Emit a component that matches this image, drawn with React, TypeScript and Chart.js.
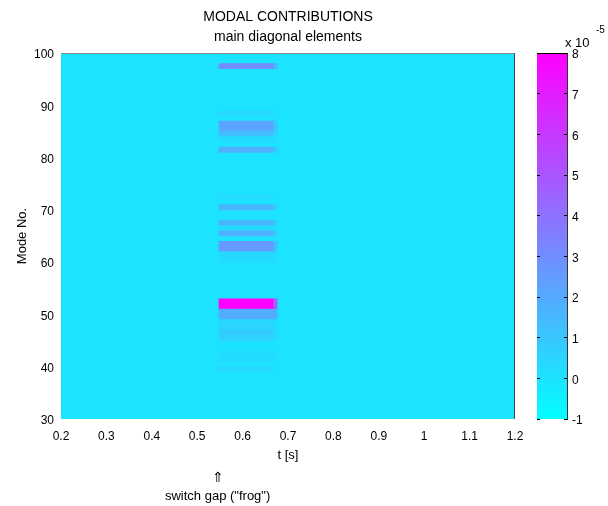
import React, { useEffect, useRef } from 'react';
import { Chart, registerables } from 'chart.js';

Chart.register(...registerables);

const FONT = '"Liberation Sans", Arial, Helvetica, sans-serif';

// axis ticks
const xTicks = [0.2, 0.3, 0.4, 0.5, 0.6, 0.7, 0.8, 0.9, 1, 1.1, 1.2];
const yTicks = [30, 40, 50, 60, 70, 80, 90, 100];
const cbTicks = [-1, 0, 1, 2, 3, 4, 5, 6, 7, 8];

// colour range (x 10^-5)
const cMin = -1;
const cMax = 8;
const baseValue = 0;

// time columns of the switching interval
const columnStart = [0.548, 0.667];
const columnEnd = [0.667, 0.676];

// modes with non-zero contribution and their values (x 10^-5)
const modes = [97, 88, 86, 85, 84, 83, 81, 72, 70, 67, 66, 65, 63, 62, 61, 60, 52, 51, 50, 49, 48, 47, 46, 45, 42, 41, 39];
const mainValues = [3.0, 0.3, 2.2, 2.2, 1.3, 0.3, 1.8, 0.2, 1.6, 1.6, 0.3, 1.8, 2.6, 2.6, 0.4, 0.3, 8, 8, 1.9, 1.9, 0.4, 0.5, 0.8, 0.6, 0.2, 0.3, 0.3];
const edgeValues = [1.6, 0.2, 1.0, 1.0, 0.6, 0.1, 0.8, 0.1, 0.7, 0.8, 0.1, 0.9, 1.3, 1.3, 0.2, 0.1, 4.5, 4.5, 1.9, 1.9, 0.2, 0.3, 0.4, 0.3, 0.1, 0.1, 0.1];

const annotationT = 0.545;

function cool(v: number): string {
  let f = (v - cMin) / (cMax - cMin);
  f = Math.max(0, Math.min(1, f));
  const r = Math.round(255 * f);
  const g = Math.round(255 * (1 - f));
  return `rgb(${r},${g},255)`;
}

function cells(col: number) {
  return modes.map((m) => ({ x: [columnStart[col], columnEnd[col]], y: m + 0.5 }));
}

const heatPlugin = {
  id: 'heatBg',
  beforeDatasetsDraw(chart: any) {
    const { ctx, chartArea: a } = chart;
    ctx.save();
    ctx.fillStyle = cool(baseValue);
    ctx.fillRect(a.left, a.top, a.right - a.left, a.bottom - a.top);
    ctx.restore();
  },
  afterDraw(chart: any) {
    const { ctx, chartArea: a } = chart;
    ctx.save();
    ctx.lineWidth = 1;
    ctx.strokeStyle = '#8a8a8a';
    ctx.beginPath();
    ctx.moveTo(a.left, Math.floor(a.top) + 0.5);
    ctx.lineTo(a.right, Math.floor(a.top) + 0.5);
    ctx.stroke();
    ctx.strokeStyle = '#444';
    ctx.beginPath();
    ctx.moveTo(Math.round(a.right) - 0.5, a.top);
    ctx.lineTo(Math.round(a.right) - 0.5, a.bottom);
    ctx.stroke();
    const x = chart.scales.x.getPixelForValue(annotationT);
    ctx.fillStyle = '#000';
    ctx.textAlign = 'center';
    ctx.textBaseline = 'middle';
    ctx.font = `14px ${FONT}`;
    ctx.fillText('\u21D1', x, 478);
    ctx.font = `13px ${FONT}`;
    ctx.fillText('switch gap ("frog")', x, 496);
    ctx.restore();
  },
};

const cbPlugin = {
  id: 'cbDeco',
  afterDraw(chart: any) {
    const { ctx, chartArea: a } = chart;
    ctx.save();
    ctx.strokeStyle = '#000';
    ctx.lineWidth = 1;
    ctx.beginPath();
    ctx.moveTo(a.left, Math.floor(a.top) + 0.5);
    ctx.lineTo(a.right, Math.floor(a.top) + 0.5);
    ctx.stroke();
    ctx.fillStyle = '#000';
    ctx.textAlign = 'left';
    ctx.textBaseline = 'middle';
    ctx.font = `13px ${FONT}`;
    ctx.fillText('x 10', 45, 43);
    ctx.font = `10px ${FONT}`;
    ctx.fillText('-5', 76, 30);
    ctx.restore();
  },
};

export default function App() {
  const mainRef = useRef<HTMLCanvasElement>(null);
  const cbRef = useRef<HTMLCanvasElement>(null);

  useEffect(() => {
    const tickFont = { family: FONT, size: 12 };
    const main = new Chart(mainRef.current as HTMLCanvasElement, {
      type: 'bar',
      data: {
        datasets: [
          {
            data: cells(0) as any,
            backgroundColor: mainValues.map(cool),
            borderWidth: 0,
            grouped: false,
            categoryPercentage: 1,
            barPercentage: 1,
          } as any,
          {
            data: cells(1) as any,
            backgroundColor: edgeValues.map(cool),
            borderWidth: 0,
            grouped: false,
            categoryPercentage: 1,
            barPercentage: 1,
          } as any,
        ],
      },
      options: {
        indexAxis: 'y',
        animation: false,
        responsive: false,
        events: [],
        layout: { padding: { left: 0, right: 61, top: 0, bottom: 43 } },
        plugins: {
          legend: { display: false },
          tooltip: { enabled: false },
          title: {
            display: true,
            fullSize: false,
            text: 'MODAL CONTRIBUTIONS',
            color: '#000',
            font: { family: FONT, size: 14, weight: 'normal' },
            padding: { top: 9, bottom: 3 },
          },
          subtitle: {
            display: true,
            fullSize: false,
            text: 'main diagonal elements',
            color: '#000',
            font: { family: FONT, size: 14, weight: 'normal' },
            padding: { top: 0, bottom: 7.4 },
          },
        },
        scales: {
          x: {
            type: 'linear',
            min: 0.2,
            max: 1.2,
            offset: false,
            afterBuildTicks: (s: any) => {
              s.ticks = xTicks.map((v) => ({ value: v }));
            },
            afterFit: (s: any) => {
              s.height = 44;
            },
            ticks: {
              callback: (v: any) => String(v),
              font: tickFont,
              color: '#000',
              padding: 10,
              maxRotation: 0,
              autoSkip: false,
            },
            grid: { display: false, drawTicks: false },
            border: { display: false },
            title: {
              display: true,
              text: 't [s]',
              color: '#000',
              font: { family: FONT, size: 13 },
              padding: { top: 4, bottom: 0 },
            },
          },
          y: {
            type: 'linear',
            min: 30,
            max: 100,
            offset: false,
            afterBuildTicks: (s: any) => {
              s.ticks = yTicks.map((v) => ({ value: v }));
            },
            afterFit: (s: any) => {
              s.width = 61;
            },
            ticks: {
              callback: (v: any) => String(v),
              font: tickFont,
              color: '#000',
              padding: 7,
              labelOffset: 2,
              autoSkip: false,
            },
            grid: { display: false, drawTicks: false },
            border: { display: false },
            title: {
              display: true,
              text: 'Mode No.',
              color: '#000',
              font: { family: FONT, size: 13 },
              padding: { top: 15, bottom: 0 },
            },
          },
        },
      } as any,
      plugins: [heatPlugin],
    });

    const cb = new Chart(cbRef.current as HTMLCanvasElement, {
      type: 'bar',
      data: {
        labels: [''],
        datasets: [
          {
            data: [[cMin, cMax]] as any,
            backgroundColor: (c: any) => {
              const chart = c.chart;
              const s = chart.scales && chart.scales.y;
              if (!s || !chart.chartArea) return cool(baseValue);
              const g = chart.ctx.createLinearGradient(0, s.getPixelForValue(cMin), 0, s.getPixelForValue(cMax));
              g.addColorStop(0, cool(cMin));
              g.addColorStop(1, cool(cMax));
              return g;
            },
            borderWidth: 0,
            categoryPercentage: 1,
            barPercentage: 1,
          } as any,
        ],
      },
      options: {
        animation: false,
        responsive: false,
        events: [],
        layout: { padding: { left: 17, right: 0, top: 53, bottom: 87 } },
        plugins: { legend: { display: false }, tooltip: { enabled: false } },
        scales: {
          x: { display: false },
          y: {
            type: 'linear',
            position: 'right',
            min: cMin,
            max: cMax,
            afterBuildTicks: (s: any) => {
              s.ticks = cbTicks.map((v) => ({ value: v }));
            },
            afterFit: (s: any) => {
              s.width = 41;
            },
            ticks: {
              callback: (v: any) => String(v),
              font: tickFont,
              color: '#000',
              padding: 8,
              labelOffset: 2,
              autoSkip: false,
            },
            grid: { display: true, drawOnChartArea: false, drawTicks: true, tickLength: -3, color: '#000', z: 1 },
            border: { display: true, color: '#333', z: 1 },
          },
          yl: {
            type: 'linear',
            position: 'left',
            min: cMin,
            max: cMax,
            afterBuildTicks: (s: any) => {
              s.ticks = cbTicks.map((v) => ({ value: v }));
            },
            afterFit: (s: any) => {
              s.width = 0;
            },
            ticks: { display: false },
            grid: { display: true, drawOnChartArea: false, drawTicks: true, tickLength: -3, color: '#000', z: 1 },
            border: { display: false },
          },
        },
      } as any,
      plugins: [cbPlugin],
    });

    return () => {
      main.destroy();
      cb.destroy();
    };
  }, []);

  return (
    <div style={{ position: 'absolute', left: 0, top: 0, width: 608, height: 506, background: '#fff' }}>
      <canvas ref={mainRef} width={576} height={506} style={{ position: 'absolute', left: 0, top: 0 }} />
      <canvas ref={cbRef} width={88} height={506} style={{ position: 'absolute', left: 520, top: 0 }} />
    </div>
  );
}
